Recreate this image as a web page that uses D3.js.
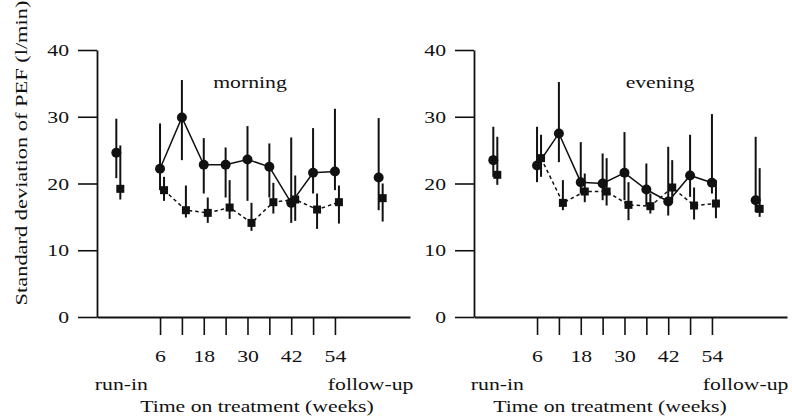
<!DOCTYPE html>
<html><head><meta charset="utf-8">
<script src="https://cdn.jsdelivr.net/npm/d3@7"></script>
<style>
body{margin:0;background:#fff}
text{font-family:"Liberation Serif","Times New Roman",serif;fill:#111}
</style>
</head><body>
<svg id="chart" width="792" height="418"></svg>
<script>
// ---- data ----
const timeLabels = ["run-in","6","12","18","24","30","36","42","48","54","follow-up"];
const timeWeeks  = [-6, 6, 12, 18, 24, 30, 36, 42, 48, 54, 66];
const tickWeeks  = [6, 12, 18, 24, 30, 36, 42, 48, 54];
const tickLabels = ["6", "", "18", "", "30", "", "42", "", "54"];
const yTicks     = [0, 10, 20, 30, 40];
const panelTitles = ["morning", "evening"];

// morning, circles (solid line)
const morningCircle   = [24.6, 22.2, 29.9, 22.8, 22.8, 23.6, 22.5, 17.1, 21.6, 21.8, 20.9];
const morningCircleLo = [20.8, 19.0, 23.5, 18.5, 17.9, 17.4, 17.9, 14.1, 18.5, 19.0, 16.0];
const morningCircleHi = [29.7, 29.0, 35.5, 26.8, 25.4, 28.6, 26.0, 26.9, 28.3, 31.2, 29.8];
// morning, squares (dashed line)
const morningSquare   = [19.2, 19.0, 16.0, 15.6, 16.4, 14.1, 17.2, 17.6, 16.1, 17.2, 17.8];
const morningSquareLo = [17.6, 17.4, 14.9, 14.1, 14.7, 12.9, 15.5, 14.4, 13.2, 14.0, 14.3];
const morningSquareHi = [25.7, 21.0, 19.7, 17.9, 20.5, 17.1, 20.1, 21.2, 18.5, 19.7, 20.0];
// evening, circles (solid line)
const eveningCircle   = [23.5, 22.7, 27.5, 20.2, 20.0, 21.6, 19.1, 17.3, 21.2, 20.1, 17.5];
const eveningCircleLo = [21.0, 20.2, 23.2, 18.5, 17.5, 17.5, 16.7, 15.2, 18.0, 18.5, 15.7];
const eveningCircleHi = [28.5, 28.5, 35.2, 26.2, 24.5, 27.7, 23.0, 25.5, 27.3, 30.4, 27.0];
// evening, squares (dashed line)
const eveningSquare   = [21.3, 23.8, 17.1, 18.8, 18.8, 16.8, 16.6, 19.4, 16.7, 17.0, 16.2];
const eveningSquareLo = [19.8, 21.0, 16.0, 17.2, 16.7, 14.5, 15.5, 17.5, 14.6, 14.8, 15.0];
const eveningSquareHi = [27.0, 27.3, 20.5, 21.5, 23.8, 20.2, 18.5, 23.5, 19.4, 20.5, 22.3];

// ---- build ----
const svg = d3.select("#chart");
const FS = 17.5, STRETCH = 1.24;
function stretch(sel, k){
  sel.each(function(){
    const w = this.getComputedTextLength();
    if (w > 0){ this.setAttribute("textLength", w * k); this.setAttribute("lengthAdjust", "spacingAndGlyphs"); }
  });
}

const y = d3.scaleLinear().domain([0, 40]).range([317, 50]);
const x = d3.scaleLinear().domain([-11.3, 74.6]).range([0, 313]);

function series(v, lo, hi){ return timeWeeks.map((w,i)=>({w, label: timeLabels[i], v: v[i], lo: lo[i], hi: hi[i]})); }

const panels = [
  {ox: 97,  title: panelTitles[0], tx: 153, axTx: 160, runDx: 5, folDx: -8,
   circ: series(morningCircle, morningCircleLo, morningCircleHi),
   sq: series(morningSquare, morningSquareLo, morningSquareHi)},
  {ox: 474, title: panelTitles[1], tx: 186, axTx: 136, runDx: 4, folDx: -10,
   circ: series(eveningCircle, eveningCircleLo, eveningCircleHi),
   sq: series(eveningSquare, eveningSquareLo, eveningSquareHi)}
];

const SQ_DX = 4;

panels.forEach(p => {
  const g = svg.append("g").attr("transform", `translate(${p.ox},0)`);

  // y axis
  const ya = g.append("g").call(d3.axisLeft(y).tickValues(yTicks).tickSize(19).tickSizeOuter(0).tickPadding(9));
  ya.select(".domain").attr("stroke", "#111").attr("stroke-width", 1.8);
  ya.selectAll(".tick line").attr("stroke", "#111").attr("stroke-width", 1.6);
  ya.selectAll(".tick text").attr("font-size", FS).attr("font-family", null).attr("fill", "#111").call(stretch, STRETCH);

  // x axis
  const xa = g.append("g").attr("transform", "translate(0,317)")
    .call(d3.axisBottom(x).tickValues(tickWeeks).tickFormat((d,i)=>tickLabels[i]).tickSize(18).tickSizeOuter(0).tickPadding(15));
  xa.select(".domain").attr("stroke", "#111").attr("stroke-width", 1.8);
  xa.selectAll(".tick line").attr("stroke", "#111").attr("stroke-width", 1.6);
  xa.selectAll(".tick text").attr("font-size", FS).attr("font-family", null).attr("fill", "#111").call(stretch, STRETCH);

  // run-in / follow-up labels
  g.append("text").attr("x", x(timeWeeks[0]) + p.runDx).attr("y", 390).attr("text-anchor", "middle")
    .attr("font-size", FS).text(timeLabels[0]).call(stretch, STRETCH);
  g.append("text").attr("x", x(timeWeeks[timeWeeks.length-1]) + p.folDx).attr("y", 390).attr("text-anchor", "middle")
    .attr("font-size", FS).text(timeLabels[timeLabels.length-1]).call(stretch, STRETCH);

  // axis title
  g.append("text").attr("x", p.axTx).attr("y", 412).attr("text-anchor", "middle")
    .attr("font-size", FS).text("Time on treatment (weeks)").call(stretch, STRETCH);

  // panel title
  g.append("text").attr("x", p.tx).attr("y", 88).attr("text-anchor", "middle")
    .attr("font-size", FS).text(p.title).call(stretch, STRETCH);

  // error bars
  g.selectAll(".ebc").data(p.circ).join("line").attr("class","ebc")
    .attr("x1", d=>x(d.w)).attr("x2", d=>x(d.w)).attr("y1", d=>y(d.lo)).attr("y2", d=>y(d.hi))
    .attr("stroke", "#111").attr("stroke-width", 2);
  g.selectAll(".ebs").data(p.sq).join("line").attr("class","ebs")
    .attr("x1", d=>x(d.w)+SQ_DX).attr("x2", d=>x(d.w)+SQ_DX).attr("y1", d=>y(d.lo)).attr("y2", d=>y(d.hi))
    .attr("stroke", "#111").attr("stroke-width", 2);

  // connecting lines (treatment weeks only)
  const inner = d => d.w >= 6 && d.w <= 54;
  g.append("path").datum(p.circ.filter(inner))
    .attr("d", d3.line().x(d=>x(d.w)).y(d=>y(d.v)))
    .attr("fill", "none").attr("stroke", "#111").attr("stroke-width", 1.5);
  g.append("path").datum(p.sq.filter(inner))
    .attr("d", d3.line().x(d=>x(d.w)+SQ_DX).y(d=>y(d.v)))
    .attr("fill", "none").attr("stroke", "#111").attr("stroke-width", 1.5).attr("stroke-dasharray", "3.5,3");

  // markers
  g.selectAll(".mc").data(p.circ).join("circle").attr("class","mc")
    .attr("cx", d=>x(d.w)).attr("cy", d=>y(d.v)).attr("r", 5).attr("fill", "#111");
  g.selectAll(".ms").data(p.sq).join("rect").attr("class","ms")
    .attr("x", d=>x(d.w)+SQ_DX-4).attr("y", d=>y(d.v)-4).attr("width", 8).attr("height", 8).attr("fill", "#111");
});

// y axis title
svg.append("text").attr("transform", "translate(27,153) rotate(-90)").attr("text-anchor", "middle")
  .attr("font-size", FS).text("Standard deviation of PEF (l/min)").call(stretch, 1.28);
</script>
</body></html>
